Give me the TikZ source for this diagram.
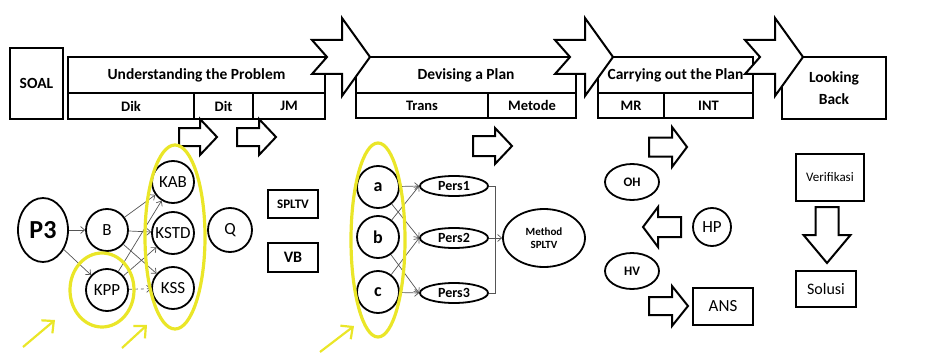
\documentclass[tikz,border=0pt]{standalone}
\usepackage{fontspec}
\setmainfont{Carlito}
\usetikzlibrary{%
    arrows.meta,
    calc,
    positioning,
    shapes.geometric
}

\definecolor{hlyellow}{RGB}{234,230,40}
\definecolor{linkgray}{RGB}{85,85,85}

\tikzset{
    title/.style={draw, line width=2.4pt, inner sep=0pt,
                  font=\bfseries\fontsize{15.5}{17}\selectfont},
    subcell/.style={draw, line width=2.4pt, inner sep=0pt,
                    font=\bfseries\fontsize{14.5}{16}\selectfont},
    circ/.style={draw, circle, line width=1.8pt, minimum size=42pt, inner sep=0pt,
                 font=\fontsize{17}{19}\selectfont},
    oval/.style={draw, ellipse, line width=1.8pt, inner sep=0pt},
    rbox/.style={draw, rectangle, line width=2pt, inner sep=0pt},
    link/.style={draw=linkgray, line width=0.7pt,
                 -{Straight Barb[length=4pt, width=7pt]}},
    hl/.style={draw=hlyellow, line width=3.2pt},
    hlarrow/.style={draw=hlyellow, line width=2.2pt,
                    -{Straight Barb[length=9pt, width=17pt]}},
    pics/bigarrow/.style={code={
        \draw[fill=white, line width=2pt, line join=miter]
            (-58,-17) -- (-28,-17) -- (-28,-39) -- (0,0) -- (-28,39)
            -- (-28,17) -- (-58,17) -- (-43,0) -- cycle;
    }},
    pics/blockarrow/.style args={#1/#2/#3/#4}{code={
        \draw[fill=white, line width=2pt, line join=miter]
            (-#1,-#3) -- (-#2,-#3) -- (-#2,-#4) -- (0,0) -- (-#2,#4)
            -- (-#2,#3) -- (-#1,#3) -- cycle;
    }}
}

\begin{document}
\begin{tikzpicture}[x=1pt, y=-1pt]
    \useasboundingbox (0,0) rectangle (932,361);

    % header row
    \foreach \Name/\Left/\Top/\Right/\Bottom/\Text in {%
        soal/10/48/63/119/SOAL,
        up/68/57/325/93/Understanding the Problem,
        dp/356/57/576/93/Devising a Plan,
        cp/598/57/753/93/Carrying out the Plan%
        }
        \node[title, minimum width={(\Right-\Left)*1pt},
              minimum height={(\Bottom-\Top)*1pt}]
            (\Name) at ({(\Left+\Right)/2}, {(\Top+\Bottom)/2}) {\Text};

    \foreach \Name/\Left/\Top/\Right/\Bottom/\Text in {%
        dik/68/93/194/119/Dik,
        dit/194/93/253/119/Dit,
        jm/253/93/325/119/JM,
        trans/356/93/488/118/Trans,
        metode/488/93/576/118/Metode,
        mr/598/93/664/118/MR,
        int/664/93/753/118/INT%
        }
        \node[subcell, minimum width={(\Right-\Left)*1pt},
              minimum height={(\Bottom-\Top)*1pt}]
            (\Name) at ({(\Left+\Right)/2}, {(\Top+\Bottom)/2}) {\Text};

    \node[title, align=center, minimum width=104pt, minimum height=62pt]
        (lb) at (834,88) {Looking\\[5pt]Back};

    \pic at (370,57) {bigarrow};
    \pic at (613,57) {bigarrow};
    \pic at (803,57) {bigarrow};

    % small block arrows
    \pic at (217,137) {blockarrow=38/17/9/18};
    \pic at (276,137) {blockarrow=39/17/9/18};
    \pic at (512,146) {blockarrow=39/17/10/18};
    \pic at (687,147) {blockarrow=38/15/9.5/20};
    \pic[rotate=180] at (643,227) {blockarrow=38/15/10/20};
    \pic at (688,306) {blockarrow=39/16/9/20};
    \pic[rotate=-90] at (827,263) {blockarrow=56/28/11.5/23.5};

    % understanding
    \node[oval, minimum width=50pt, minimum height=64pt,
          font=\bfseries\fontsize{26}{28}\selectfont] (p3) at (43,230) {P3};
    \node[circ] (nb)   at (107,230) {B};
    \node[circ] (kpp)  at (107,290) {KPP};
    \node[circ] (kab)  at (173,182) {KAB};
    \node[circ] (kstd) at (173,233) {KSTD};
    \node[circ] (kss)  at (173,288) {KSS};
    \node[circ, minimum size=44pt] (q) at (230,230) {Q};
    \node[rbox, minimum width=50pt, minimum height=28pt,
          font=\bfseries\fontsize{13}{15}\selectfont] (spltv) at (293,204) {SPLTV};
    \node[rbox, minimum width=50pt, minimum height=29pt,
          font=\bfseries\fontsize{16}{18}\selectfont] (vbox) at (293,257.5) {VB};

    \foreach \Source/\Target in {%
        p3/nb,
        p3/kpp,
        nb/kab,
        nb/kstd,
        nb/kss,
        kpp/kab,
        kpp/kstd%
        }
        \draw[link] (\Source) to (\Target);
    \draw[link, dashed] (kpp) -- (kss);

    % devising
    \node[circ, font=\bfseries\fontsize{18}{20}\selectfont] (va) at (378,187) {a};
    \node[circ, font=\bfseries\fontsize{18}{20}\selectfont] (vb) at (378,237) {b};
    \node[circ, font=\bfseries\fontsize{18}{20}\selectfont] (vc) at (378,292) {c};
    \foreach \Name/\Y/\Text in {pers1/186/Pers1, pers2/238/Pers2, pers3/293/Pers3}
        \node[oval, minimum width=68pt, minimum height=20pt,
              font=\bfseries\fontsize{14}{15}\selectfont] (\Name) at (454,\Y) {\Text};
    \node[oval, minimum width=82pt, minimum height=58pt, align=center,
          font=\bfseries\fontsize{11}{13}\selectfont] (method) at (544,238) {Method\\SPLTV};

    \foreach \Source/\Target in {%
        va/pers1,
        va/pers2,
        vb/pers1,
        vb/pers3,
        vc/pers2,
        vc/pers3%
        }
        \draw[link] (\Source) to (\Target.west);

    \coordinate (join) at (495,238);
    \draw[linkgray, line width=0.7pt] (pers1.east) -- (pers1.east -| join)
        -- (pers3.east -| join) -- (pers3.east);
    \draw[link] (pers2.east) -- (method.west);

    % carrying out
    \node[oval, minimum width=54pt, minimum height=36pt,
          font=\bfseries\fontsize{13}{15}\selectfont] (oh) at (632,182) {OH};
    \node[oval, minimum width=54pt, minimum height=36pt,
          font=\bfseries\fontsize{13}{15}\selectfont] (hv) at (632,271) {HV};
    \node[circ, minimum size=38pt] (hp) at (712,227) {HP};
    \node[rbox, minimum width=60pt, minimum height=37pt,
          font=\fontsize{17}{19}\selectfont] (ans) at (723,306.5) {ANS};

    % looking back
    \node[rbox, minimum width=68pt, minimum height=47pt,
          font=\fontsize{13}{15}\selectfont] (verif) at (830,177.5) {Verifikasi};
    \node[rbox, minimum width=60pt, minimum height=36pt,
          font=\fontsize{16}{18}\selectfont] (solusi) at (826,289) {Solusi};

    % highlights
    \draw[hl] (102,290) ellipse [x radius=32, y radius=37];
    \draw[hl] (175,237) ellipse [x radius=30, y radius=92];
    \draw[hl] (378,240) ellipse [x radius=27, y radius=97];
    \draw[hlarrow] (23,347) -- (55,320);
    \draw[hlarrow] (122,348) -- (147,325);
    \draw[hlarrow] (320,352) -- (354,326);
\end{tikzpicture}
\end{document}
